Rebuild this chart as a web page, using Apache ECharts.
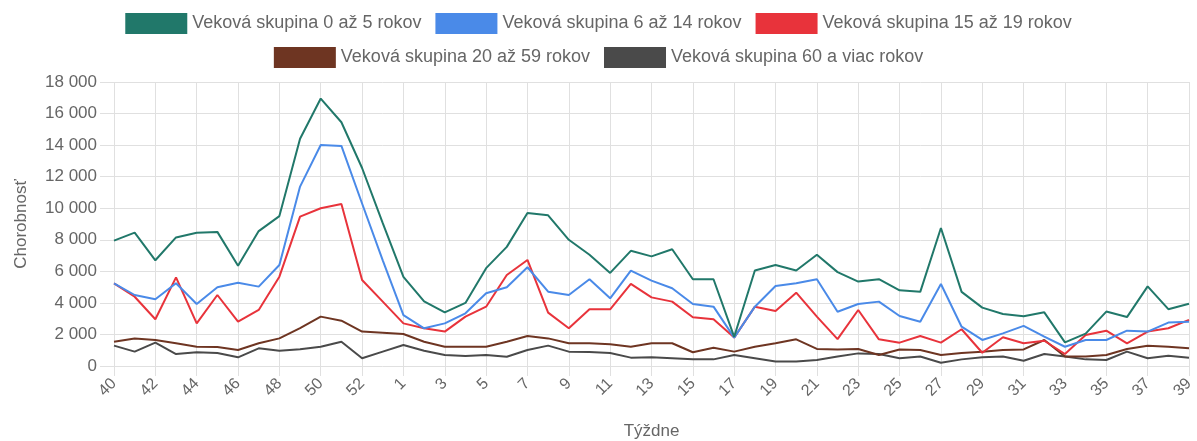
<!DOCTYPE html>
<html><head><meta charset="utf-8">
<script src="https://cdn.jsdelivr.net/npm/echarts@6/dist/echarts.min.js"></script>
<style>html,body{margin:0;padding:0;background:#fff}#c{width:1197px;height:441px}</style>
</head><body><div id="c"></div>
<script>
const weeks = [40,41,42,43,44,45,46,47,48,49,50,51,52,53,1,2,3,4,5,6,7,8,9,10,11,12,13,14,15,16,17,18,19,20,21,22,23,24,25,26,27,28,29,30,31,32,33,34,35,36,37,38,39];
const seriesNames = ["Veková skupina 0 až 5 rokov","Veková skupina 6 až 14 rokov","Veková skupina 15 až 19 rokov","Veková skupina 20 až 59 rokov","Veková skupina 60 a viac rokov"];
const g0_5 = [7950,8450,6700,8150,8450,8500,6350,8550,9500,14400,16950,15450,12550,9050,5650,4100,3400,4000,6200,7550,9700,9550,8000,7050,5900,7300,6950,7400,5500,5500,1850,6050,6400,6050,7050,5950,5350,5500,4800,4700,8750,4700,3700,3300,3150,3400,1500,2050,3450,3100,5050,3600,3950];
const g6_14 = [5240,4500,4230,5240,3930,4990,5280,5030,6400,11370,14010,13950,10300,6700,3230,2390,2700,3340,4610,4990,6260,4710,4500,5500,4290,6040,5410,4930,3930,3760,1800,3760,5070,5240,5500,3440,3930,4080,3170,2810,5200,2490,1650,2070,2540,1860,1220,1650,1650,2240,2180,2750,2810];
const g15_19 = [5240,4390,2960,5620,2700,4500,2810,3550,5660,9470,10000,10270,5450,4080,2700,2390,2180,3130,3760,5770,6720,3380,2390,3590,3590,5200,4350,4080,3090,2960,1800,3760,3490,4650,3130,1700,3550,1690,1480,1900,1480,2330,840,1820,1440,1600,760,1970,2240,1440,2180,2390,2920];
const g20_59 = [1540,1750,1650,1440,1220,1200,1010,1440,1750,2400,3130,2870,2180,2110,2030,1540,1220,1220,1220,1540,1900,1750,1440,1440,1380,1220,1440,1440,870,1160,910,1220,1440,1690,1080,1050,1080,700,1050,1010,700,830,900,1010,1050,1650,600,600,700,1080,1290,1220,1120];
const g60 = [1290,910,1480,760,870,820,550,1120,970,1060,1220,1540,490,910,1330,970,700,630,700,590,1010,1290,910,890,830,530,550,490,420,420,700,490,280,280,380,600,800,760,490,600,210,420,550,600,330,760,600,420,380,910,490,650,530];
const colors = ["#21786a","#4a8ae8","#e8333b","#6e3522","#4a4a4a"];
const allData = [g0_5,g6_14,g15_19,g20_59,g60];

const chart = echarts.init(document.getElementById('c'), null, {renderer:'canvas'});
const fmt = v => String(v).replace(/\B(?=(\d{3})+(?!\d))/g, ' ');
const FONT = 'Liberation Sans';
const legendCommon = {itemWidth:62,itemHeight:21,itemGap:14,icon:'rect',
  textStyle:{fontFamily:FONT,fontSize:18,color:'#666'},selectedMode:false};
chart.setOption({
  animation:false,
  color:colors,
  legend:[
    Object.assign({data:seriesNames.slice(0,3),top:13,left:'center',padding:0},legendCommon),
    Object.assign({data:seriesNames.slice(3),top:47,left:'center',padding:0},legendCommon)
  ],
  grid:{left:114,right:8,top:82,bottom:75,containLabel:false,outerBoundsMode:'none'},
  xAxis:{type:'category',data:weeks.map(String),boundaryGap:false,
    name:'Týždne',nameLocation:'middle',nameGap:57,
    nameTextStyle:{fontFamily:FONT,fontSize:17,color:'#666'},
    axisLine:{show:false},
    axisTick:{show:true,interval:1,length:10,lineStyle:{color:'#e0e0e0'}},
    axisLabel:{interval:1,rotate:45,fontFamily:FONT,fontSize:16,color:'#666',margin:15},
    splitLine:{show:true,interval:1,lineStyle:{color:'#e0e0e0'}}},
  yAxis:{type:'value',min:0,max:18000,interval:2000,
    name:'Chorobnosť',nameLocation:'middle',nameGap:84,
    nameTextStyle:{fontFamily:FONT,fontSize:17,color:'#666'},
    axisLine:{show:false},
    axisTick:{show:true,length:14,lineStyle:{color:'#e0e0e0'}},
    axisLabel:{formatter:fmt,fontFamily:FONT,fontSize:17,color:'#666',margin:17},
    splitLine:{lineStyle:{color:'#e0e0e0'}}},
  series:allData.map((d,i)=>({name:seriesNames[i],type:'line',data:d,showSymbol:false,symbol:'none',
    lineStyle:{width:2,color:colors[i]},itemStyle:{color:colors[i]},z:10-i}))
});
</script></body></html>
